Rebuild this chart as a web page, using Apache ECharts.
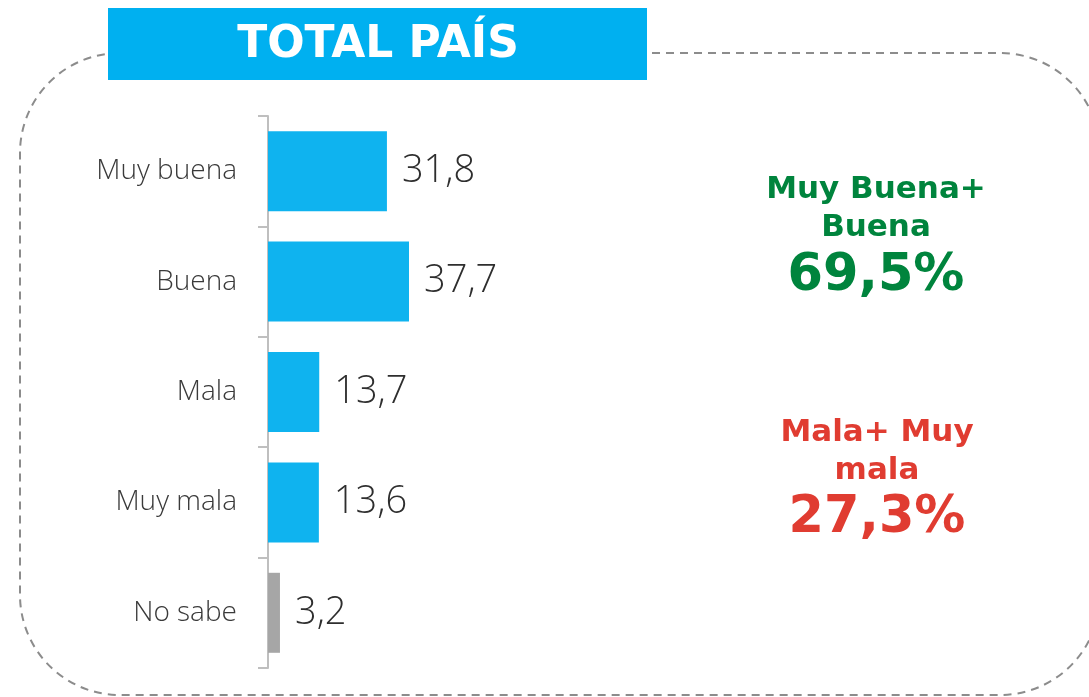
<!DOCTYPE html>
<html>
<head>
<meta charset="utf-8">
<script src="https://cdn.jsdelivr.net/npm/echarts@6/dist/echarts.min.js"></script>
<style>
  html, body { margin: 0; padding: 0; background: #fff; }
  #chart { width: 1089px; height: 697px; }
</style>
</head>
<body>
<div id="chart"></div>
<script>
var categories = ['Muy buena', 'Buena', 'Mala', 'Muy mala', 'No sabe'];
var values = [31.8, 37.7, 13.7, 13.6, 3.2];
var barColors = ['#0FB3EF', '#0FB3EF', '#0FB3EF', '#0FB3EF', '#A6A6A6'];

var fmt = function (v) { return v.toFixed(1).replace('.', ','); };
var positive = values[0] + values[1];
var negative = values[2] + values[3];

var chart = echarts.init(document.getElementById('chart'));
chart.setOption({
  animation: false,
  grid: { left: 268, top: 116, bottom: 29, width: 374 },
  xAxis: { type: 'value', min: 0, max: 100, show: false },
  yAxis: {
    type: 'category',
    inverse: true,
    data: categories,
    axisLine: { show: true, lineStyle: { color: '#BFBFBF', width: 2 } },
    axisTick: { show: true, length: 10, lineStyle: { color: '#BFBFBF', width: 2 } },
    axisLabel: { margin: 31, fontSize: 28, fontWeight: 300, color: '#3A3A3A', fontFamily: 'Open Sans' }
  },
  series: [{
    type: 'bar',
    barWidth: 80,
    data: values.map(function (v, i) {
      return { value: v, itemStyle: { color: barColors[i] } };
    }),
    label: {
      show: true,
      position: 'right',
      distance: 15,
      fontSize: 38,
      fontWeight: 300,
      color: '#2E2E2E',
      fontFamily: 'Open Sans',
      formatter: function (p) { return fmt(p.value); }
    }
  }],
  graphic: [
    {
      type: 'rect', z: 0,
      shape: { x: 20, y: 53, width: 1080, height: 642, r: 100 },
      style: { fill: 'none', stroke: '#8C8C8C', lineWidth: 2, lineDash: [8, 6] }
    },
    {
      type: 'rect', z: 10,
      shape: { x: 108, y: 8, width: 539, height: 72 },
      style: { fill: '#00B0F0' }
    },
    {
      type: 'text', z: 11, x: 378, y: 46,
      style: { text: 'TOTAL PAÍS', fill: '#fff', font: 'bold 44px "DejaVu Sans"', align: 'center', verticalAlign: 'middle' }
    },
    {
      type: 'text', z: 11, x: 876, y: 190,
      style: { text: 'Muy Buena+', fill: '#00843D', font: 'bold 31px "DejaVu Sans"', align: 'center', verticalAlign: 'middle' }
    },
    {
      type: 'text', z: 11, x: 876, y: 228,
      style: { text: 'Buena', fill: '#00843D', font: 'bold 31px "DejaVu Sans"', align: 'center', verticalAlign: 'middle' }
    },
    {
      type: 'text', z: 11, x: 876, y: 277,
      style: { text: fmt(positive) + '%', fill: '#00843D', font: 'bold 51px "DejaVu Sans"', align: 'center', verticalAlign: 'middle' }
    },
    {
      type: 'text', z: 11, x: 877, y: 433,
      style: { text: 'Mala+ Muy', fill: '#E03C31', font: 'bold 31px "DejaVu Sans"', align: 'center', verticalAlign: 'middle' }
    },
    {
      type: 'text', z: 11, x: 877, y: 471,
      style: { text: 'mala', fill: '#E03C31', font: 'bold 31px "DejaVu Sans"', align: 'center', verticalAlign: 'middle' }
    },
    {
      type: 'text', z: 11, x: 877, y: 519,
      style: { text: fmt(negative) + '%', fill: '#E03C31', font: 'bold 51px "DejaVu Sans"', align: 'center', verticalAlign: 'middle' }
    }
  ]
});
</script>
</body>
</html>
